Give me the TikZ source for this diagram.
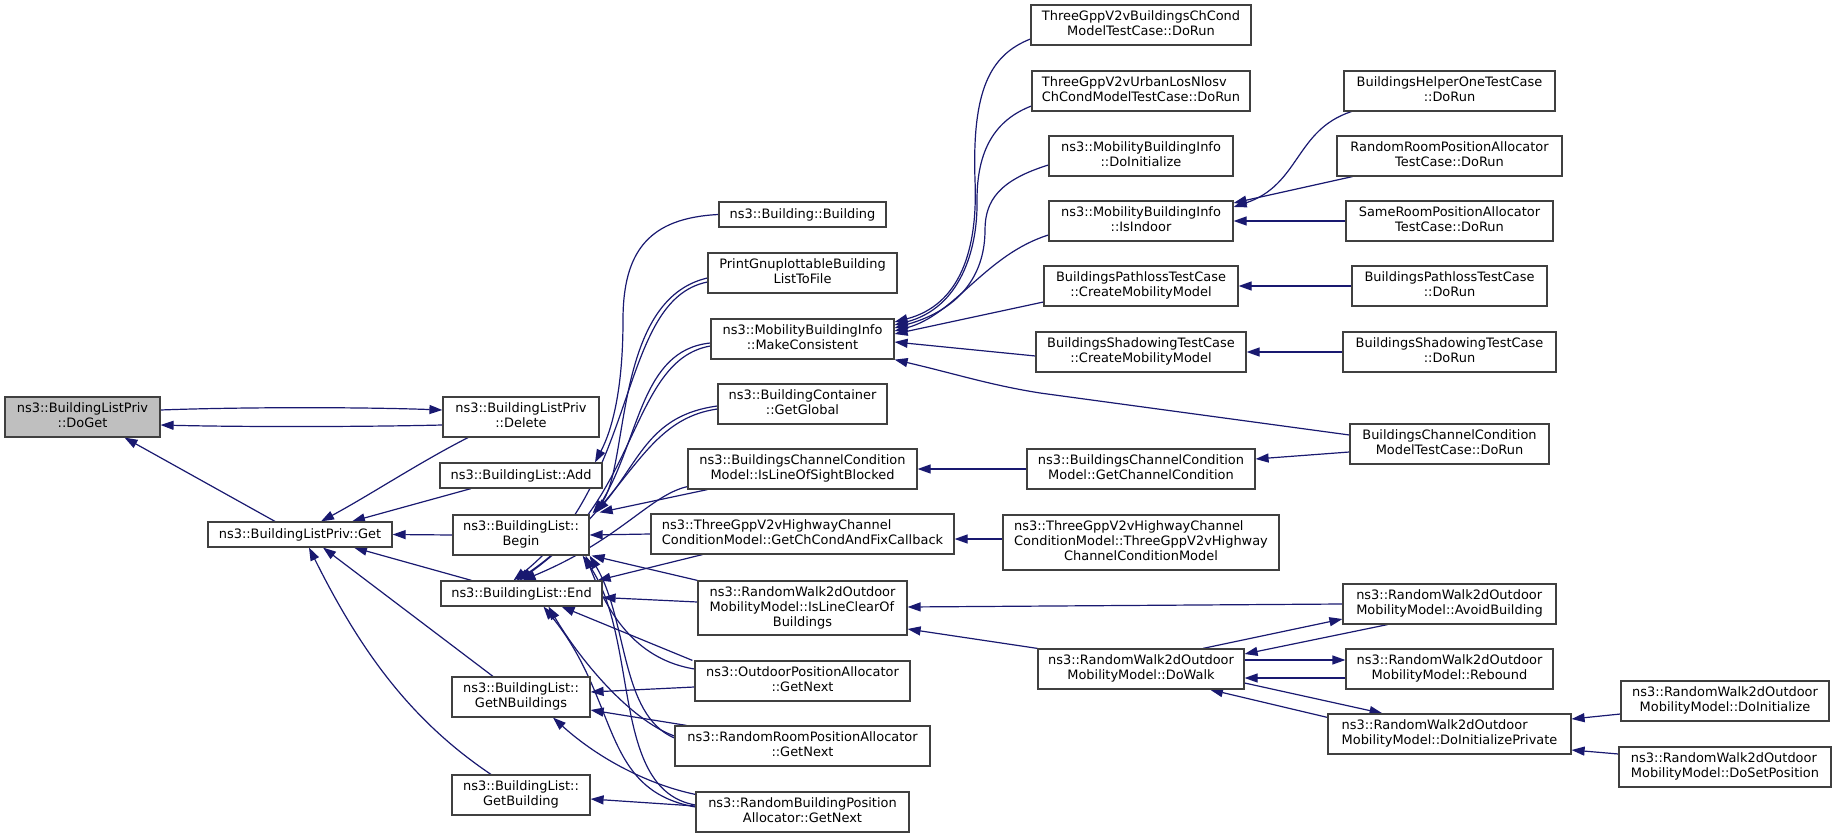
\documentclass[tikz,border=0pt]{standalone}
\usepackage{fontspec}
\setmainfont{DejaVu Sans}
\usetikzlibrary{arrows.meta}
\definecolor{edgecol}{HTML}{191970}
\definecolor{boxline}{HTML}{404040}
\definecolor{rootfill}{HTML}{BFBFBF}
\pgfdeclarelayer{bg}
\pgfsetlayers{bg,main}
\newcommand\LC[2]{\begin{tabular}{@{}l@{}}#1\\\multicolumn{1}{@{}c@{}}{#2}\end{tabular}}
\newcommand\LLC[3]{\begin{tabular}{@{}l@{}}#1\\#2\\\multicolumn{1}{@{}c@{}}{#3}\end{tabular}}
\newcommand\nd[7]{%
  \pgfmathsetmacro\ndw{#5-#3}%
  \pgfmathsetmacro\ndh{#6-#4}%
  \pgfmathsetmacro\ndx{(#3+#5)/2}%
  \pgfmathsetmacro\ndy{(#4+#6)/2}%
  \node[fnbox,#1,minimum width=\ndw pt,minimum height=\ndh pt] (#2) at (\ndx,\ndy) {#7};}
\tikzset{
  fnbox/.style={draw=boxline,line width=1.2pt,fill=white,rectangle,inner sep=0pt,
    font=\fontsize{12.95}{15}\selectfont,align=center},
  rootbox/.style={fill=rootfill},
  ce/.style={draw=edgecol,line width=1.2pt,
    arrows={Triangle[length=13pt,width=9pt,color=edgecol]-}},
}
\begin{document}
\begin{tikzpicture}[x=1pt,y=-1pt]
\useasboundingbox (0,0) rectangle (1837,837);
% rank 0 / 1
\nd{rootbox}{DoGet}{5}{397}{160}{437}{\LC{ns3::BuildingListPriv}{::DoGet}}
\nd{}{Get}{208}{522}{392}{547}{ns3::BuildingListPriv::Get}
% rank 2
\nd{}{Delete}{443}{397}{599}{437}{\LC{ns3::BuildingListPriv}{::Delete}}
\nd{}{Add}{440}{463}{602}{488}{ns3::BuildingList::Add}
\nd{}{Begin}{453}{515}{589}{555}{\LC{ns3::BuildingList::}{Begin}}
\nd{}{End}{441}{581}{602}{606}{ns3::BuildingList::End}
\nd{}{GetNB}{452}{677}{590}{717}{\LC{ns3::BuildingList::}{GetNBuildings}}
\nd{}{GetBuilding}{452}{775}{590}{815}{\LC{ns3::BuildingList::}{GetBuilding}}
% rank 3
\nd{}{Building}{719}{202}{886}{227}{ns3::Building::Building}
\nd{}{Print}{708}{253}{897}{293}{\LC{PrintGnuplottableBuilding}{ListToFile}}
\nd{}{MakeCons}{711}{319}{894}{359}{\LC{ns3::MobilityBuildingInfo}{::MakeConsistent}}
\nd{}{GetGlobal}{718}{384}{887}{424}{\LC{ns3::BuildingContainer}{::GetGlobal}}
\nd{}{IsLOS}{688}{449}{917}{489}{\LC{ns3::BuildingsChannelCondition}{Model::IsLineOfSightBlocked}}
\nd{}{GetChCond}{651}{514}{954}{554}{\LC{ns3::ThreeGppV2vHighwayChannel}{ConditionModel::GetChCondAndFixCallback}}
\nd{}{IsLineClear}{698}{581}{907}{635}{\LLC{ns3::RandomWalk2dOutdoor}{MobilityModel::IsLineClearOf}{Buildings}}
\nd{}{Outdoor}{695}{661}{910}{701}{\LC{ns3::OutdoorPositionAllocator}{::GetNext}}
\nd{}{RandomRoom}{675}{726}{930}{766}{\LC{ns3::RandomRoomPositionAllocator}{::GetNext}}
\nd{}{RandomBuilding}{696}{792}{909}{832}{\LC{ns3::RandomBuildingPosition}{Allocator::GetNext}}
% rank 4
\nd{}{VBldg}{1031}{5}{1251}{45}{\LC{ThreeGppV2vBuildingsChCond}{ModelTestCase::DoRun}}
\nd{}{Urban}{1032}{71}{1250}{111}{\LC{ThreeGppV2vUrbanLosNlosv}{ChCondModelTestCase::DoRun}}
\nd{}{MBIDoInit}{1049}{136}{1233}{176}{\LC{ns3::MobilityBuildingInfo}{::DoInitialize}}
\nd{}{IsIndoor}{1049}{201}{1233}{241}{\LC{ns3::MobilityBuildingInfo}{::IsIndoor}}
\nd{}{PathCMM}{1044}{266}{1238}{306}{\LC{BuildingsPathlossTestCase}{::CreateMobilityModel}}
\nd{}{ShadCMM}{1036}{332}{1246}{372}{\LC{BuildingsShadowingTestCase}{::CreateMobilityModel}}
\nd{}{GetChanCond}{1027}{449}{1255}{489}{\LC{ns3::BuildingsChannelCondition}{Model::GetChannelCondition}}
\nd{}{HwyCCM}{1003}{515}{1279}{570}{\LLC{ns3::ThreeGppV2vHighwayChannel}{ConditionModel::ThreeGppV2vHighway}{ChannelConditionModel}}
\nd{}{DoWalk}{1038}{649}{1244}{689}{\LC{ns3::RandomWalk2dOutdoor}{MobilityModel::DoWalk}}
% rank 5
\nd{}{HelperOne}{1344}{71}{1555}{111}{\LC{BuildingsHelperOneTestCase}{::DoRun}}
\nd{}{RandRoomTC}{1337}{136}{1562}{176}{\LC{RandomRoomPositionAllocator}{TestCase::DoRun}}
\nd{}{SameRoomTC}{1346}{201}{1553}{241}{\LC{SameRoomPositionAllocator}{TestCase::DoRun}}
\nd{}{PathDoRun}{1352}{266}{1547}{306}{\LC{BuildingsPathlossTestCase}{::DoRun}}
\nd{}{ShadDoRun}{1343}{332}{1556}{372}{\LC{BuildingsShadowingTestCase}{::DoRun}}
\nd{}{BCCMTC}{1350}{424}{1549}{464}{\LC{BuildingsChannelCondition}{ModelTestCase::DoRun}}
\nd{}{AvoidB}{1343}{584}{1556}{624}{\LC{ns3::RandomWalk2dOutdoor}{MobilityModel::AvoidBuilding}}
\nd{}{Rebound}{1346}{649}{1553}{689}{\LC{ns3::RandomWalk2dOutdoor}{MobilityModel::Rebound}}
\nd{}{DoInitPriv}{1328}{714}{1571}{754}{\LC{ns3::RandomWalk2dOutdoor}{MobilityModel::DoInitializePrivate}}
% rank 6
\nd{}{RWDoInit}{1621}{681}{1829}{721}{\LC{ns3::RandomWalk2dOutdoor}{MobilityModel::DoInitialize}}
\nd{}{RWDoSetPos}{1619}{747}{1831}{787}{\LC{ns3::RandomWalk2dOutdoor}{MobilityModel::DoSetPosition}}

\begin{pgfonlayer}{bg}
% rank 0-1-2
\draw[ce] ([yshift=7pt]Delete.west) .. controls (360,407) and (240,407) .. ([yshift=7pt]DoGet.east);
\draw[ce] ([yshift=-8pt]DoGet.east) .. controls (240,427) and (360,427) .. ([yshift=-8pt]Delete.west);
\draw[ce] ([xshift=42pt]DoGet.south) -- ([xshift=-25pt]Get.north);
\draw[ce] ([xshift=21pt]Get.north) .. controls (370,495) and (420,462) .. ([xshift=-53pt]Delete.south);
\draw[ce] ([xshift=52pt]Get.north) -- ([xshift=-50pt]Add.south);
\draw[ce] (Get.east) -- (Begin.west);
\draw[ce] ([xshift=54pt]Get.south) -- ([xshift=-50pt]End.north);
\draw[ce] ([xshift=23pt]Get.south) -- ([xshift=-28pt]GetNB.north);
\draw[ce] ([xshift=9pt]Get.south) .. controls (360,650) and (410,720) .. ([xshift=-30pt]GetBuilding.north);
% rank 3 -> rank 2
\draw[ce] ([xshift=74pt]Add.north) .. controls (612,430) and (623,390) .. (623,320) .. controls (623,250) and (650,218) .. (Building.west);
\draw[ce] ([xshift=3pt,yshift=1pt]Begin.north east) .. controls (630,470) and (612,300) .. ([yshift=-5pt]Print.west);
\draw[ce] ([xshift=-8pt]End.north) .. controls (640,480) and (618,300) .. ([yshift=-9pt]Print.west);
\draw[ce] ([xshift=5pt,yshift=1pt]Begin.north east) .. controls (640,440) and (640,350) .. ([yshift=-4pt]MakeCons.west);
\draw[ce] ([xshift=-5pt]End.north) .. controls (640,500) and (630,360) .. ([yshift=-7pt]MakeCons.west);
\draw[ce] ([xshift=7pt,yshift=2pt]Begin.north east) .. controls (640,460) and (650,415) .. ([yshift=-2pt]GetGlobal.west);
\draw[ce] ([xshift=-2pt]End.north) .. controls (630,500) and (640,420) .. ([yshift=-5pt]GetGlobal.west);
\draw[ce] ([xshift=10pt,yshift=2pt]Begin.north east) -- ([xshift=20pt]IsLOS.south west);
\draw[ce] ([xshift=1pt]End.north) .. controls (620,540) and (650,495) .. ([yshift=3pt]IsLOS.south west);
\draw[ce] (Begin.east) -- (GetChCond.west);
\draw[ce] ([xshift=-5pt]End.north east) -- ([xshift=52pt]GetChCond.south west);
\draw[ce] ([xshift=2pt]Begin.south east) -- (IsLineClear.north west);
\draw[ce] ([yshift=-4pt]End.east) -- ([yshift=6pt]IsLineClear.west);
\draw[ce] ([xshift=-4pt]Begin.south east) .. controls (610,620) and (640,660) .. ([yshift=12pt]Outdoor.west);
\draw[ce] ([xshift=40pt]End.south) -- ([xshift=-2pt]Outdoor.north west);
\draw[ce] ([yshift=5pt]GetNB.east) -- ([yshift=-6pt]Outdoor.west);
\draw[ce] ([xshift=0pt]Begin.south east) .. controls (628,620) and (620,715) .. ([yshift=8pt]RandomRoom.west);
\draw[ce] ([xshift=27pt]End.south) .. controls (580,660) and (630,720) .. ([yshift=10pt]RandomRoom.west);
\draw[ce] ([yshift=-13pt]GetNB.east) -- ([xshift=12pt]RandomRoom.north west);
\draw[ce] ([xshift=-7pt]Begin.south east) .. controls (640,640) and (610,790) .. ([yshift=7pt]RandomBuilding.west);
\draw[ce] ([xshift=22pt]End.south) .. controls (620,700) and (600,790) .. ([yshift=5pt]RandomBuilding.west);
\draw[ce] ([xshift=32pt]GetNB.south) .. controls (600,760) and (650,785) .. ([yshift=-3pt]RandomBuilding.north west);
\draw[ce] ([yshift=-4pt]GetBuilding.east) -- ([yshift=6pt]RandomBuilding.west);
% rank 4 -> rank 3
\draw[ce] ([yshift=17pt]MakeCons.east) .. controls (960,305) and (978,250) .. (975,180) .. controls (972,90) and (990,55) .. ([yshift=-14pt]VBldg.west);
\draw[ce] ([yshift=14pt]MakeCons.east) .. controls (960,308) and (978,250) .. (977,200) .. controls (977,150) and (995,120) .. ([yshift=-15pt]Urban.west);
\draw[ce] ([yshift=11pt]MakeCons.east) .. controls (965,308) and (985,270) .. (985,230) .. controls (985,200) and (1000,180) .. ([yshift=-9pt]MBIDoInit.west);
\draw[ce] ([yshift=8pt]MakeCons.east) .. controls (955,315) and (985,255) .. ([yshift=-14pt]IsIndoor.west);
\draw[ce] ([yshift=5pt]MakeCons.east) -- ([yshift=-16pt]PathCMM.west);
\draw[ce] ([yshift=-3pt]MakeCons.east) -- ([yshift=-4pt]ShadCMM.west);
\draw[ce] (MakeCons.south east) .. controls (960,375) and (990,385) .. (1040,393) -- ([yshift=9pt]BCCMTC.west);
\draw[ce] (IsLOS.east) -- (GetChanCond.west);
\draw[ce] ([yshift=-5pt]GetChCond.east) -- ([yshift=3.5pt]HwyCCM.west);
\draw[ce] ([yshift=-21pt]IsLineClear.east) -- (DoWalk.north west);
\draw[ce] ([yshift=1pt]IsLineClear.east) -- (AvoidB.west);
% rank 5 -> rank 4
\draw[ce] ([yshift=14pt]IsIndoor.east) .. controls (1300,185) and (1295,130) .. ([xshift=8pt]HelperOne.south west);
\draw[ce] ([yshift=18pt]IsIndoor.east) -- ([xshift=16pt]RandRoomTC.south west);
\draw[ce] (IsIndoor.east) -- (SameRoomTC.west);
\draw[ce] (PathCMM.east) -- (PathDoRun.west);
\draw[ce] (ShadCMM.east) -- (ShadDoRun.west);
\draw[ce] ([yshift=10pt]GetChanCond.east) -- ([yshift=-8pt]BCCMTC.west);
% DoWalk cluster
\draw[ce] ([yshift=-15pt]AvoidB.west) -- ([xshift=62pt]DoWalk.north);
\draw[ce] ([yshift=15pt]DoWalk.east) -- ([xshift=-62pt]AvoidB.south);
\draw[ce] ([yshift=9pt]Rebound.west) -- ([yshift=9pt]DoWalk.east);
\draw[ce] ([yshift=-9pt]DoWalk.east) -- ([yshift=-9pt]Rebound.west);
\draw[ce] ([xshift=-67pt]DoInitPriv.north) -- ([yshift=-14pt]DoWalk.east);
\draw[ce] ([xshift=69pt]DoWalk.south) -- ([yshift=-4pt]DoInitPriv.north west);
\draw[ce] ([yshift=15pt]DoInitPriv.east) -- ([yshift=-13pt]RWDoInit.west);
\draw[ce] ([yshift=-16pt]DoInitPriv.east) -- ([yshift=13pt]RWDoSetPos.west);
\end{pgfonlayer}
\end{tikzpicture}
\end{document}
